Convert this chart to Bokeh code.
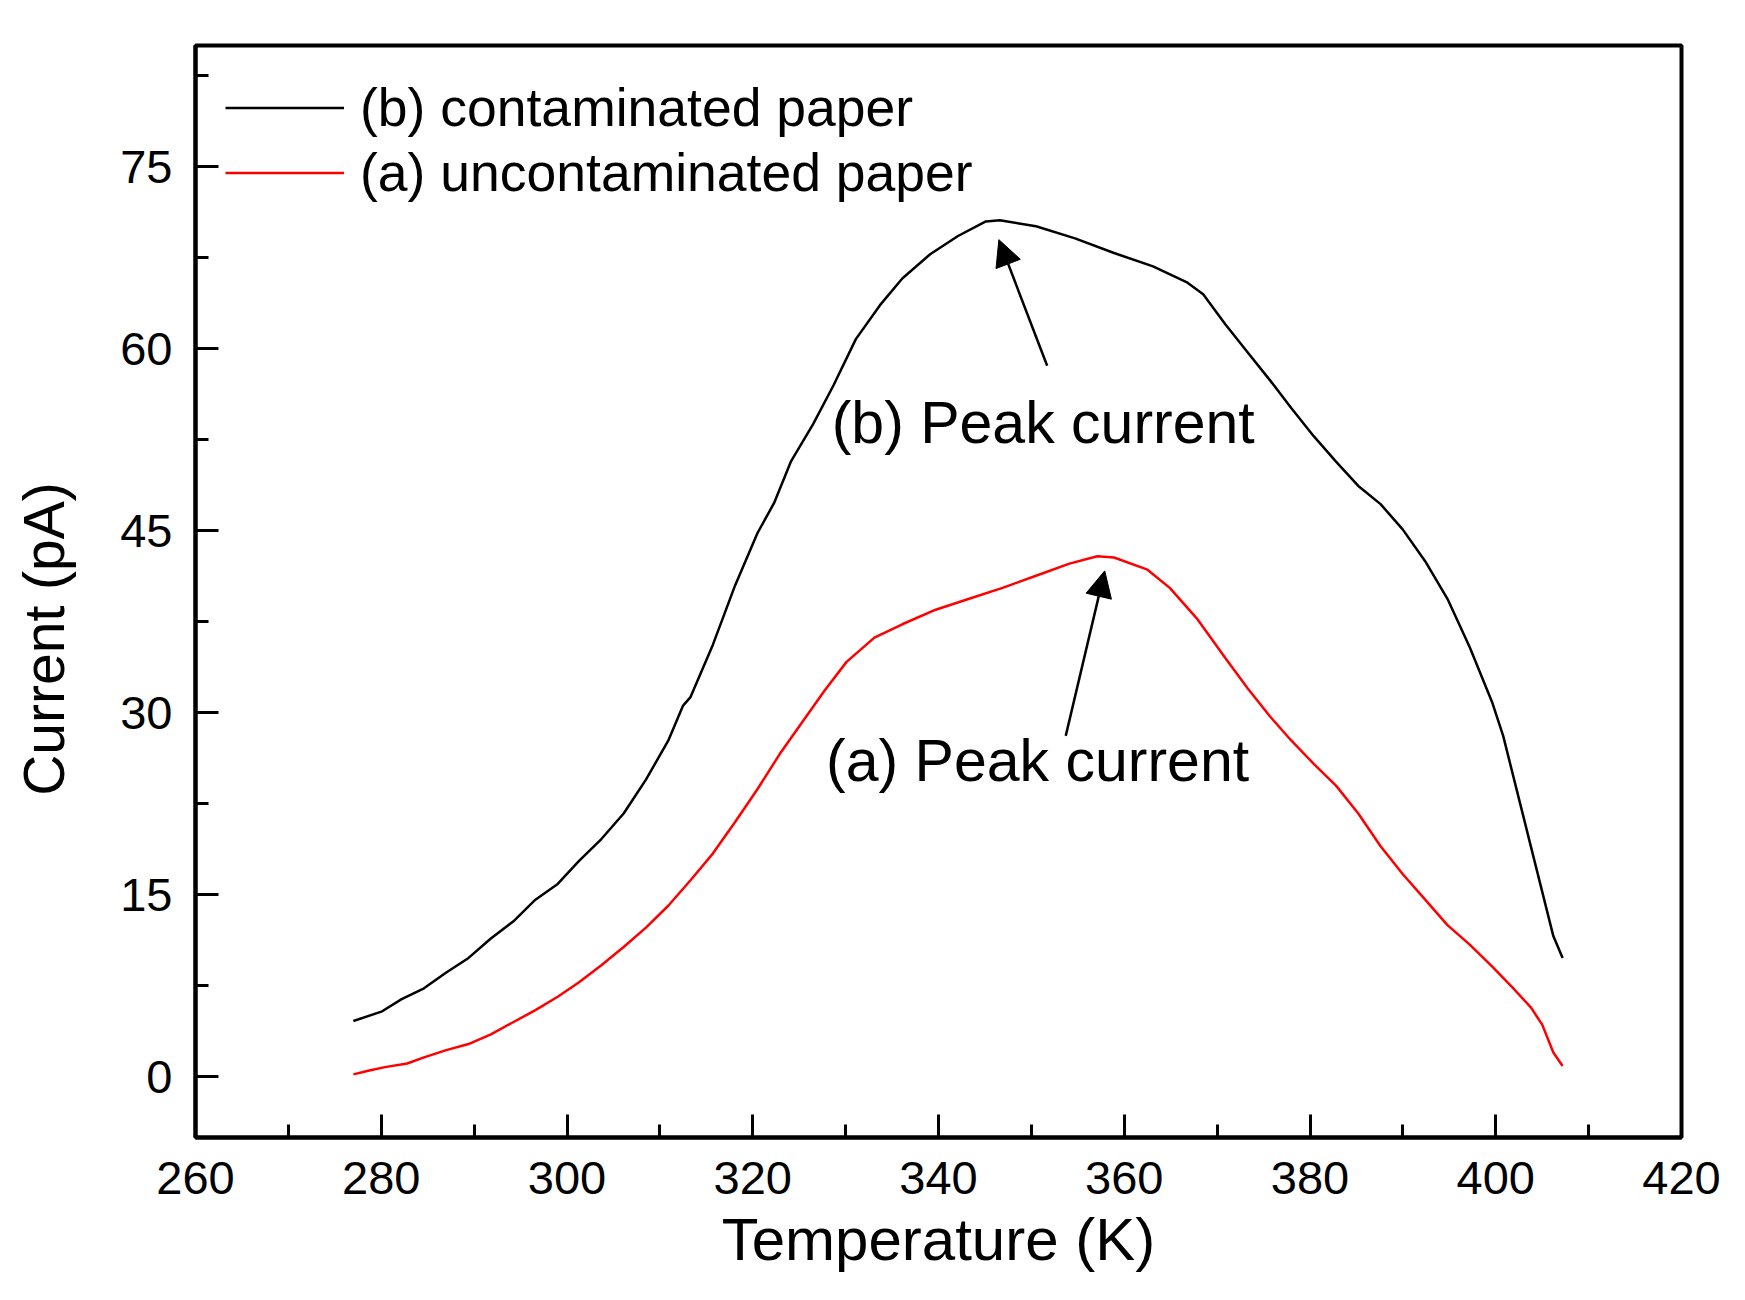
from bokeh.plotting import figure
from bokeh.models import (Range1d, SingleIntervalTicker, Legend, LegendItem,
                          Arrow, NormalHead, ColumnDataSource)
from bokeh.core.properties import value
from bokeh.embed import file_html
from bokeh.resources import INLINE

# ---------------- data ----------------
temp_b = [277.0, 280.1, 282.2, 284.6, 287.0, 289.4, 291.8, 294.2, 296.6, 299.0,
          301.3, 303.7, 306.1, 308.5, 310.9, 312.5, 313.3, 315.7, 318.1, 320.5,
          322.3, 324.1, 326.5, 328.7, 331.1, 333.7, 336.1, 339.1, 342.1, 345.1,
          346.6, 350.5, 354.7, 358.9, 363.1, 366.7, 368.5, 370.9, 373.3, 375.7,
          378.0, 380.4, 382.8, 385.2, 387.6, 390.0, 392.4, 394.8, 397.2, 399.6,
          400.8, 402.6, 404.4, 406.2, 407.2]
curr_b = [4.6, 5.4, 6.4, 7.3, 8.6, 9.8, 11.4, 12.8, 14.6, 15.9,
          17.8, 19.6, 21.7, 24.5, 27.7, 30.6, 31.3, 35.6, 40.5, 44.8,
          47.3, 50.7, 53.8, 57.0, 60.8, 63.6, 65.8, 67.8, 69.3, 70.5,
          70.6, 70.1, 69.1, 67.9, 66.8, 65.5, 64.5, 62.0, 59.7, 57.4,
          55.1, 52.8, 50.7, 48.7, 47.2, 45.1, 42.5, 39.4, 35.4, 30.9,
          28.1, 22.6, 17.1, 11.6, 9.8]

temp_a = [277.0, 278.6, 280.4, 282.8, 284.6, 287.0, 289.4, 291.8, 294.2, 296.6,
          299.0, 301.3, 303.7, 306.1, 308.5, 310.9, 313.3, 315.7, 318.1, 320.5,
          322.9, 325.3, 327.7, 330.1, 333.1, 336.1, 339.7, 343.3, 346.9, 350.5,
          354.1, 357.1, 358.9, 362.5, 364.9, 367.9, 370.9, 373.3, 375.7, 378.0,
          380.4, 382.8, 385.2, 387.6, 390.0, 392.4, 394.8, 397.2, 399.6, 402.0,
          403.8, 405.0, 406.2, 407.2]
curr_a = [0.2, 0.5, 0.8, 1.1, 1.6, 2.2, 2.7, 3.5, 4.5, 5.5,
          6.6, 7.8, 9.2, 10.7, 12.3, 14.1, 16.2, 18.4, 21.0, 23.7,
          26.6, 29.2, 31.8, 34.2, 36.2, 37.3, 38.5, 39.4, 40.3, 41.3,
          42.3, 42.9, 42.8, 41.8, 40.3, 37.7, 34.5, 32.0, 29.7, 27.7,
          25.8, 24.0, 21.7, 19.0, 16.7, 14.6, 12.5, 10.9, 9.1, 7.2,
          5.7, 4.3, 2.0, 0.9]

legend_labels = ["(b) contaminated paper", "(a) uncontaminated paper"]
x_title = "Temperature (K)"
y_title = "Current (pA)"

note_text = ["(b) Peak current", "(a) Peak current"]
note_x = [328.5, 327.9]
note_y = [53.9, 26.0]

arrow_x0 = [351.7, 353.7]
arrow_y0 = [58.6, 28.1]
arrow_x1 = [346.5, 357.9]
arrow_y1 = [69.0, 41.7]

x_ticks_interval = 20
y_ticks_interval = 15

FONT = "Liberation Sans"

# ---------------- figure ----------------
p = figure(width=1732, height=1287, output_backend="svg", toolbar_location=None,
           x_range=Range1d(260, 420), y_range=Range1d(-5, 85),
           min_border_left=195, min_border_top=45, min_border_right=51,
           min_border_bottom=150)

p.xgrid.visible = False
p.ygrid.visible = False
p.background_fill_color = "white"
p.border_fill_color = "white"
p.outline_line_color = "black"
p.outline_line_width = 4
p.outline_line_alpha = 1.0

p.xaxis.ticker = SingleIntervalTicker(interval=x_ticks_interval, num_minor_ticks=2)
p.yaxis.ticker = SingleIntervalTicker(interval=y_ticks_interval, num_minor_ticks=2)

for ax in (p.xaxis[0], p.yaxis[0]):
    ax.axis_line_color = "black"
    ax.axis_line_width = 4
    ax.major_tick_in = 23
    ax.major_tick_out = 0
    ax.minor_tick_in = 13
    ax.minor_tick_out = 0
    ax.major_tick_line_width = 3
    ax.minor_tick_line_width = 3
    ax.major_tick_line_color = "black"
    ax.minor_tick_line_color = "black"
    ax.major_label_text_font = FONT
    ax.major_label_text_font_size = "47px"
    ax.major_label_text_color = "black"
    ax.axis_label_text_font = FONT
    ax.axis_label_text_font_style = "normal"
    ax.axis_label_text_color = "black"

p.xaxis.axis_label = x_title
p.xaxis.axis_label_text_font_size = "60px"
p.xaxis.major_label_standoff = 24
p.xaxis.axis_label_standoff = 9

# trailing no-break spaces move the centred title slightly down, as in the original
p.yaxis.axis_label = y_title + "\u00a0" * 6
p.yaxis.axis_label_text_font_size = "57px"
p.yaxis.major_label_standoff = 23
p.yaxis.axis_label_standoff = 41

src_b = ColumnDataSource(dict(x=temp_b, y=curr_b))
src_a = ColumnDataSource(dict(x=temp_a, y=curr_a))
rb = p.line("x", "y", source=src_b, line_color="black", line_width=2.5)
ra = p.line("x", "y", source=src_a, line_color="#ff0000", line_width=2.5)

legend = Legend(items=[LegendItem(label=legend_labels[0], renderers=[rb]),
                       LegendItem(label=legend_labels[1], renderers=[ra])],
                location="top_left")
legend.label_text_font = FONT
legend.label_text_font_size = "53.5px"
legend.label_text_color = "black"
legend.glyph_width = 119
legend.glyph_height = 65
legend.label_height = 65
legend.spacing = 0
legend.label_standoff = 16
legend.margin = 15
legend.padding = 15
legend.border_line_alpha = 0
legend.background_fill_alpha = 0
p.add_layout(legend)

note_src = ColumnDataSource(dict(x=note_x, y=note_y, t=note_text))
p.text("x", "y", text="t", source=note_src, text_font=value(FONT),
       text_font_size="59px", text_color="black",
       text_baseline="alphabetic", text_align="left")

for i in range(len(arrow_x0)):
    p.add_layout(Arrow(end=NormalHead(size=26, fill_color="black", line_color="black",
                                      line_width=1),
                       x_start=arrow_x0[i], y_start=arrow_y0[i],
                       x_end=arrow_x1[i], y_end=arrow_y1[i],
                       line_color="black", line_width=2.5))

open("out.html", "w").write(file_html(p, INLINE))
